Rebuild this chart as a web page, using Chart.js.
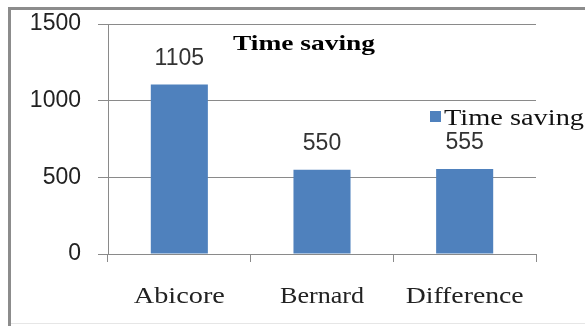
<!DOCTYPE html>
<html>
<head>
<meta charset="utf-8">
<script src="https://cdn.jsdelivr.net/npm/chart.js@4.4.0/dist/chart.umd.min.js"></script>
<style>
  html, body { margin: 0; padding: 0; background: #fff; }
  #wrap { width: 585px; height: 326px; position: relative; }
</style>
</head>
<body>
<div id="wrap"><canvas id="myChart" width="585" height="326"></canvas></div>
<script>
const categories = ["Abicore", "Bernard", "Difference"];
const timeSaving = [1105, 550, 555];
const yTicks = [0, 500, 1000, 1500];
const seriesName = "Time saving";
const chartTitle = "Time saving";

const barColor = "#4f81bd";
const gridColor = "#8a8a8a";

// draw text squeezed/stretched to a given width (the reference serif text is wide)
function wideText(ctx, text, x, y, font, width, align) {
  ctx.save();
  ctx.font = font;
  const w = ctx.measureText(text).width;
  const sx = width / w;
  let left = x;
  if (align === "center") left = x - width / 2;
  ctx.translate(left, y);
  ctx.scale(sx, 1);
  ctx.textAlign = "left";
  ctx.fillText(text, 0, 0);
  ctx.restore();
}

const extras = {
  id: "extras",
  afterDraw(chart) {
    const ctx = chart.ctx;
    const xs = chart.scales.x;
    const ys = chart.scales.y;

    // outer frame
    ctx.save();
    ctx.strokeStyle = "#8c8c8c";
    ctx.lineWidth = 3;
    ctx.strokeRect(9.5, 8.5, 620, 330);
    ctx.strokeStyle = "#e6e6e6";
    ctx.lineWidth = 1;
    ctx.beginPath();
    ctx.moveTo(11, 323.5);
    ctx.lineTo(585, 323.5);
    ctx.stroke();
    ctx.restore();

    // value labels above bars
    ctx.save();
    ctx.fillStyle = "#333";
    ctx.font = "23px 'Liberation Sans', Arial, sans-serif";
    ctx.textAlign = "center";
    ctx.textBaseline = "alphabetic";
    timeSaving.forEach((v, i) => {
      ctx.fillText(String(v), xs.getPixelForValue(i), ys.getPixelForValue(v) - 20);
    });
    ctx.restore();

    // category labels
    ctx.save();
    ctx.fillStyle = "#222";
    const catWidths = [91, 84, 118];
    categories.forEach((c, i) => {
      wideText(ctx, c, xs.getPixelForValue(i), 303, "24px 'Liberation Serif', 'Times New Roman', serif", catWidths[i], "center");
    });

    // title
    ctx.fillStyle = "#000";
    wideText(ctx, chartTitle, 233, 50, "bold 22px 'Liberation Serif', 'Times New Roman', serif", 142, "left");

    // legend
    ctx.fillStyle = barColor;
    ctx.fillRect(430, 111, 11, 11);
    ctx.fillStyle = "#111";
    wideText(ctx, seriesName, 444, 125, "24px 'Liberation Serif', 'Times New Roman', serif", 140, "left");
    ctx.restore();
  }
};

new Chart(document.getElementById("myChart"), {
  type: "bar",
  data: {
    labels: categories,
    datasets: [{
      label: seriesName,
      data: timeSaving,
      backgroundColor: barColor,
      borderWidth: 0,
      categoryPercentage: 1,
      barPercentage: 0.4
    }]
  },
  options: {
    responsive: false,
    animation: false,
    layout: { padding: { left: 0, top: 24, right: 49, bottom: 0 } },
    plugins: {
      legend: { display: false },
      title: { display: false },
      tooltip: { enabled: false }
    },
    scales: {
      x: {
        grid: {
          drawOnChartArea: false,
          drawTicks: true,
          tickLength: 8,
          color: gridColor,
          offset: true
        },
        border: { color: gridColor, width: 1 },
        ticks: { display: false },
        afterFit(scale) {
          scale.height = 72;
          scale.paddingLeft = 0;
          scale.paddingRight = 0;
        }
      },
      y: {
        min: 0,
        max: 1500,
        afterBuildTicks(scale) { scale.ticks = yTicks.map(v => ({ value: v })); },
        grid: { color: gridColor, tickLength: 10 },
        border: { color: gridColor, width: 1 },
        ticks: {
          color: "#222",
          padding: 17,
          font: { family: "'Liberation Sans', Arial, sans-serif", size: 23 },
          callback: (v) => String(v)
        },
        afterFit(scale) {
          scale.width = 108;
          scale.paddingTop = 0;
          scale.paddingBottom = 0;
        }
      }
    }
  },
  plugins: [extras]
});
</script>
</body>
</html>
